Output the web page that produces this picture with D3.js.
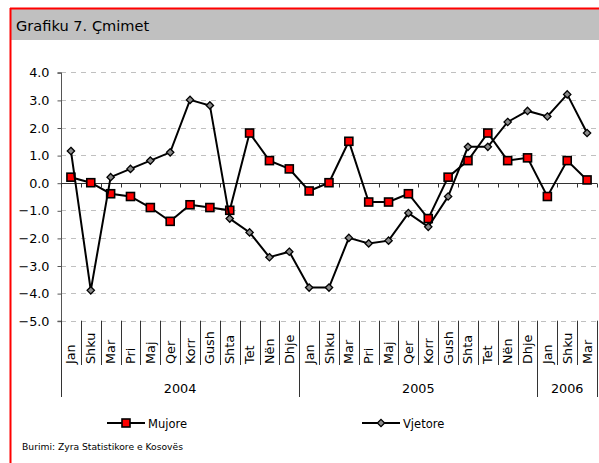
<!DOCTYPE html>
<html>
<head>
<meta charset="utf-8">
<script src="https://cdn.jsdelivr.net/npm/d3@7"></script>
<style>
  body { margin: 0; background: #fff; }
  svg { display: block; font-family: 'DejaVu Sans', Verdana, sans-serif; }
</style>
</head>
<body>
<svg id="chart"></svg>
<script>
const months = ['Jan', 'Shku', 'Mar', 'Pri', 'Maj', 'Qer', 'Korr', 'Gush', 'Shta', 'Tet', 'Nën', 'Dhje',
  'Jan', 'Shku', 'Mar', 'Pri', 'Maj', 'Qer', 'Korr', 'Gush', 'Shta', 'Tet', 'Nën', 'Dhje',
  'Jan', 'Shku', 'Mar']
const years = [
  { label: '2004', start: 0, end: 12 },
  { label: '2005', start: 12, end: 24 },
  { label: '2006', start: 24, end: 27 },
]
const mujore = [0.2, 0.0, -0.4, -0.5, -0.9, -1.4, -0.8, -0.9, -1.0, 1.8, 0.8, 0.5,
  -0.3, 0.0, 1.5, -0.7, -0.7, -0.4, -1.3, 0.2, 0.8, 1.8, 0.8, 0.9,
  -0.5, 0.8, 0.1]
const vjetore = [1.15, -3.9, 0.2, 0.5, 0.8, 1.1, 3.0, 2.8, -1.3, -1.8, -2.7, -2.5,
  -3.8, -3.8, -2.0, -2.2, -2.1, -1.1, -1.6, -0.5, 1.3, 1.3, 2.2, 2.6,
  2.4, 3.2, 1.8]
const yTicks = [-5, -4, -3, -2, -1, 0, 1, 2, 3, 4]

const W = 599, H = 463
const svg = d3.select('#chart').attr('width', W).attr('height', H)

// frame + title bar
svg.append('rect').attr('x', 11).attr('y', 9).attr('width', W - 11).attr('height', 31).attr('fill', '#c0c0c0')
svg.append('line').attr('x1', 10).attr('x2', W).attr('y1', 8.5).attr('y2', 8.5).attr('stroke', '#ff0000').attr('stroke-width', 2)
svg.append('line').attr('x1', 10.5).attr('x2', 10.5).attr('y1', 8).attr('y2', H).attr('stroke', '#ff0000').attr('stroke-width', 2)
svg.append('text').attr('x', 16).attr('y', 30.5).attr('font-size', 14.6).attr('fill', '#000').text('Grafiku 7. Çmimet')

const pLeft = 61, pRight = 597, pTop = 72.3, pBottom = 320.7

const x = d3.scaleBand().domain(d3.range(months.length)).range([pLeft, pRight])
const y = d3.scaleLinear().domain([-5, 4]).range([pBottom, pTop])
const cx = (i) => x(i) + x.bandwidth() / 2
const edge = (i) => Math.round(pLeft + i * x.step()) + 0.5

// gridlines
svg.append('g')
  .selectAll('line')
  .data(yTicks.filter((d) => d !== 0))
  .enter()
  .append('line')
  .attr('x1', pLeft).attr('x2', pRight)
  .attr('y1', (d) => Math.round(y(d)) + 0.5).attr('y2', (d) => Math.round(y(d)) + 0.5)
  .attr('stroke', '#c0c0c0')
  .attr('stroke-dasharray', '5,5')

// y axis
const yAxis = d3.axisLeft(y).tickValues(yTicks).tickFormat(d3.format('.1f')).tickSize(4).tickPadding(8)
const yg = svg.append('g').attr('transform', `translate(${pLeft + 0.5},0.5)`).call(yAxis)
yg.select('.domain').attr('stroke', '#555').attr('d', `M-4,${y(4)}H0V${y(-5)}H-4`)
yg.selectAll('.tick line').attr('stroke', '#555')
yg.selectAll('.tick text').attr('font-size', 12.8).attr('fill', '#000').attr('font-family', "'DejaVu Sans', Verdana, sans-serif")

// zero line with category ticks
const zg = svg.append('g').attr('transform', `translate(0,${Math.round(y(0)) + 0.5})`)
zg.append('line').attr('x1', pLeft).attr('x2', pRight).attr('stroke', '#333')
zg.selectAll('line.t')
  .data(d3.range(months.length + 1))
  .enter()
  .append('line')
  .attr('class', 't')
  .attr('x1', edge).attr('x2', edge)
  .attr('y1', 0).attr('y2', 4)
  .attr('stroke', '#333')

// category labels below plot
const cat = svg.append('g')
cat.selectAll('line.m')
  .data(d3.range(months.length + 1))
  .enter()
  .append('line')
  .attr('class', 'm')
  .attr('x1', edge).attr('x2', edge)
  .attr('y1', pBottom)
  .attr('y2', (i) => (years.some((yr) => yr.start === i || yr.end === i) ? 397 : 365))
  .attr('stroke', '#333')
cat.selectAll('text.m')
  .data(months)
  .enter()
  .append('text')
  .attr('class', 'm')
  .attr('transform', (d, i) => `translate(${cx(i) + 4.5},364) rotate(-90)`)
  .attr('font-size', 12.8)
  .text((d) => d)
cat.selectAll('text.y')
  .data(years)
  .enter()
  .append('text')
  .attr('class', 'y')
  .attr('x', (d) => (x(d.start) + x(d.end - 1) + x.bandwidth()) / 2)
  .attr('y', 393)
  .attr('text-anchor', 'middle')
  .attr('font-size', 12.8)
  .text((d) => d.label)

// series
const line = d3.line().x((d, i) => cx(i)).y((d) => y(d))

svg.append('path').attr('d', line(mujore)).attr('fill', 'none').attr('stroke', '#000').attr('stroke-width', 2)
svg.append('g')
  .selectAll('rect')
  .data(mujore)
  .enter()
  .append('rect')
  .attr('x', (d, i) => cx(i) - 4)
  .attr('y', (d) => y(d) - 4)
  .attr('width', 8).attr('height', 8)
  .attr('fill', '#ff0000').attr('stroke', '#000').attr('stroke-width', 1.6)

const diamond = d3.symbol().type(d3.symbolDiamond2).size(34)
svg.append('path').attr('d', line(vjetore)).attr('fill', 'none').attr('stroke', '#000').attr('stroke-width', 2)
svg.append('g')
  .selectAll('path')
  .data(vjetore)
  .enter()
  .append('path')
  .attr('d', diamond)
  .attr('transform', (d, i) => `translate(${cx(i)},${y(d)})`)
  .attr('fill', '#8a8a8a').attr('stroke', '#000').attr('stroke-width', 1.3)

// legend
const lg = svg.append('g')
lg.append('line').attr('x1', 107).attr('x2', 145).attr('y1', 423).attr('y2', 423).attr('stroke', '#000').attr('stroke-width', 2)
lg.append('rect').attr('x', 122).attr('y', 419).attr('width', 8).attr('height', 8)
  .attr('fill', '#ff0000').attr('stroke', '#000').attr('stroke-width', 1.6)
lg.append('text').attr('x', 148).attr('y', 427.5).attr('font-size', 11.5).text('Mujore')
lg.append('line').attr('x1', 362).attr('x2', 400).attr('y1', 423).attr('y2', 423).attr('stroke', '#000').attr('stroke-width', 2)
lg.append('path').attr('d', diamond).attr('transform', 'translate(381,423)')
  .attr('fill', '#8a8a8a').attr('stroke', '#000').attr('stroke-width', 1.3)
lg.append('text').attr('x', 403).attr('y', 427.5).attr('font-size', 11.5).text('Vjetore')

svg.append('text').attr('x', 22).attr('y', 450).attr('font-size', 9.2).text('Burimi: Zyra Statistikore e Kosovës')
</script>
</body>
</html>
